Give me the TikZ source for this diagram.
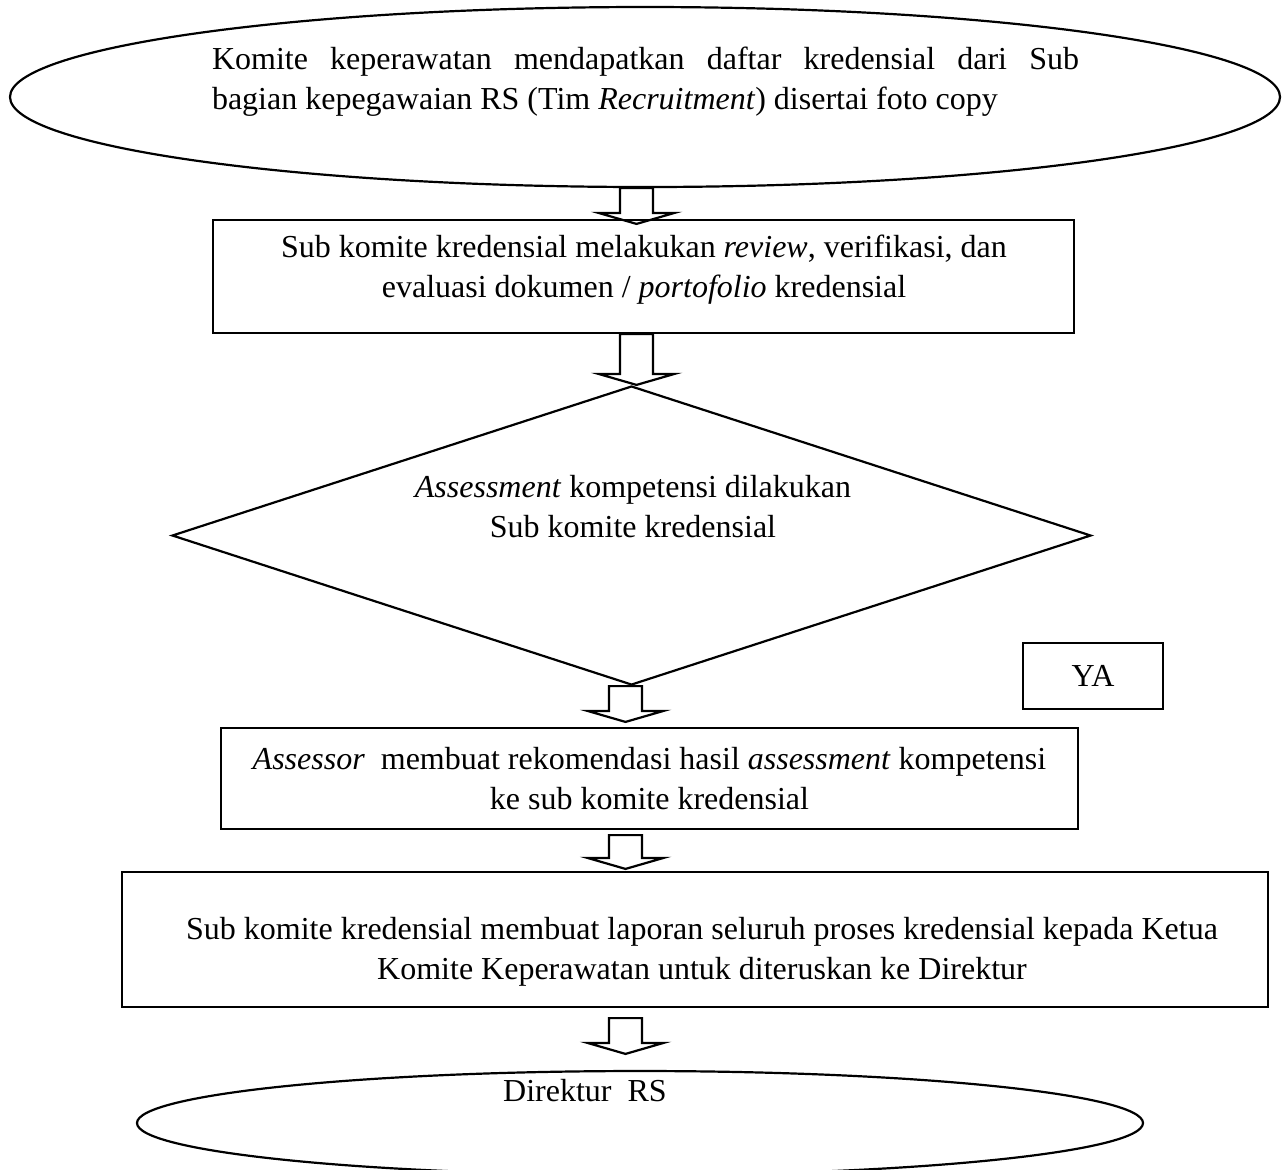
\documentclass[tikz,border=0pt]{standalone}
\usepackage{fontspec}
\setmainfont{Liberation Serif}
\usetikzlibrary{shapes.geometric,calc}

\tikzset{
  flowbox/.style={draw, line width=1.1pt, rectangle, inner sep=0pt},
  flowoval/.style={draw, line width=1.1pt, ellipse, inner sep=0pt},
  flowdia/.style={draw, line width=1.1pt, diamond, inner sep=0pt},
  flowtext/.style={font=\fontsize{16}{20}\selectfont, align=center, inner sep=0pt},
  blockarr/.style={draw, line width=1.1pt, line join=miter},
}

% hollow block arrow: shaft from #1 down to the tip at the height of #2
\newcommand{\blockarrow}[2]{%
  \draw[blockarr] let \p1=(#1), \p2=(#2) in
    (\x1-8.25pt,\y1) -- (\x1-8.25pt,\y2+5.5pt) -- (\x1-19pt,\y2+5.5pt)
    -- (\x1,\y2) -- (\x1+19pt,\y2+5.5pt) -- (\x1+8.25pt,\y2+5.5pt)
    -- (\x1+8.25pt,\y1) -- cycle;}

\begin{document}
\begin{tikzpicture}[x=0.5pt,y=-0.5pt]
    \useasboundingbox (0,0) rectangle (1288,1169);

    % Start
    \node[flowoval, minimum width=635pt, minimum height=90pt] (start) at (645,97) {};
    \node[flowtext, text width=433.5pt, align=justify] (starttext) at (645.5,82)
        {Komite keperawatan mendapatkan daftar kredensial dari Sub\linebreak
         bagian kepegawaian RS (Tim \textit{Recruitment}) disertai foto copy};

    % Review
    \node[flowbox, minimum width=430.5pt, minimum height=56.5pt] (review) at (643.5,276.5) {};
    \node[flowtext] (reviewtext) at (644,270)
        {Sub komite kredensial melakukan \textit{review}, verifikasi, dan\\
         evaluasi dokumen / \textit{portofolio} kredensial};

    % Assessment
    \node[flowdia, minimum width=459.5pt, minimum height=149.5pt] (assess) at (631.5,535.5) {};
    \node[flowtext] (assesstext) at (633,507)
        {\textit{Assessment} kompetensi dilakukan\\
         Sub komite kredensial};

    \node[flowbox, flowtext, minimum width=70pt, minimum height=33pt] (ya) at (1093,676) {YA};

    % Recommendation
    \node[flowbox, flowtext, minimum width=428.5pt, minimum height=50.5pt] (recom) at (649.5,778.5)
        {\textit{Assessor}\ \ membuat rekomendasi hasil \textit{assessment} kompetensi\\
         ke sub komite kredensial};

    % Report
    \node[flowbox, minimum width=573pt, minimum height=67.5pt] (report) at (695,939.5) {};
    \node[flowtext] (reporttext) at (702,952)
        {Sub komite kredensial membuat laporan seluruh proses kredensial kepada Ketua\\
         Komite Keperawatan untuk diteruskan ke Direktur};

    % End
    \node[flowoval, minimum width=503pt, minimum height=52pt] (finish) at (640,1123) {};
    \node[flowtext] (finishtext) at (585,1091) {Direktur\ \ RS};

    % Block arrows
    \blockarrow{$(start.south)+(-8.5,0)$}{$(review.north)+(0,5)$}
    \blockarrow{$(review.south)+(-7,0)$}{assess.north}
    \blockarrow{$(assess.south)+(-6,0)$}{$(recom.north)+(0,-5)$}
    \blockarrow{$(recom.south)+(-24,5)$}{$(report.north)+(0,-2)$}
    \blockarrow{$(report.south)+(-69.5,10)$}{$(finish.north)+(0,-16)$}
\end{tikzpicture}
\end{document}
